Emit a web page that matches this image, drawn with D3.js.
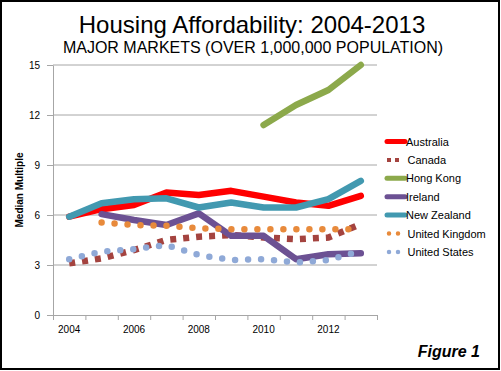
<!DOCTYPE html>
<html lang="en">
  <head>
    <meta charset="UTF-8" />
    <title>Housing Affordability: 2004-2013</title>
    <script src="https://d3js.org/d3.v7.min.js"></script>
    <style>
      body {
        margin: 0;
        background: #fff;
      }
      svg {
        display: block;
        font-family: "Liberation Sans", Arial, sans-serif;
      }
      .line {
        fill: none;
      }
      .grid line {
        stroke: #a6a6a6;
      }
      .axis path,
      .axis line {
        stroke: #a6a6a6;
      }
      .axis text {
        font-size: 10px;
        fill: #000;
      }
    </style>
  </head>
  <body>
    <svg id="chart" width="501" height="371"></svg>

    <script>
      const years = [2004, 2005, 2006, 2007, 2008, 2009, 2010, 2011, 2012, 2013];
      const yearLabels = [2004, 2006, 2008, 2010, 2012];
      const yTicks = [0, 3, 6, 9, 12, 15];

      // null = no data for that year
      const australia = [5.9, 6.35, 6.6, 7.35, 7.2, 7.45, 7.1, 6.75, 6.55, 7.15];
      const canada = [3.1, 3.4, 3.9, 4.5, 4.7, 4.8, 4.65, 4.55, 4.65, 5.45];
      const hongKong = [null, null, null, null, null, null, 11.4, 12.6, 13.5, 15.0];
      const ireland = [null, 6.05, 5.7, 5.4, 6.1, 4.75, 4.75, 3.35, 3.65, 3.7];
      const newZealand = [5.9, 6.7, 6.95, 7.0, 6.45, 6.75, 6.45, 6.45, 6.95, 8.05];
      const unitedKingdom = [null, 5.55, 5.4, 5.35, 5.2, 5.15, 5.15, 5.15, 5.15, 5.15];
      const unitedStates = [3.35, 3.8, 3.95, 4.2, 3.6, 3.3, 3.35, 3.15, 3.3, 3.85];

      const series = [
        { name: "Australia", values: australia, color: "#ff0000", style: "solid" },
        { name: "Canada", values: canada, color: "#a4433f", style: "square" },
        { name: "Hong Kong", values: hongKong, color: "#8ca94b", style: "solid" },
        { name: "Ireland", values: ireland, color: "#6c5193", style: "solid" },
        { name: "New Zealand", values: newZealand, color: "#4299b0", style: "solid" },
        { name: "United Kingdom", values: unitedKingdom, color: "#e88a3b", style: "round" },
        { name: "United States", values: unitedStates, color: "#8fa9d7", style: "round" },
      ];

      const svg = d3.select("#chart");
      const plotLeft = 53, plotRight = 377, plotTop = 65, plotBottom = 315;

      // frame
      svg.append("rect")
        .attr("x", 1).attr("y", 1).attr("width", 498).attr("height", 368)
        .attr("fill", "none").attr("stroke", "#000").attr("stroke-width", 2);

      const x = d3.scaleBand().domain(years).range([plotLeft, plotRight]);
      const y = d3.scaleLinear().domain([0, 15]).range([plotBottom, plotTop]);
      const cx = (yr) => x(yr) + x.bandwidth() / 2;

      // gridlines
      svg.append("g").attr("class", "grid")
        .selectAll("line")
        .data(yTicks.filter((d) => d > 0))
        .join("line")
        .attr("x1", plotLeft).attr("x2", plotRight)
        .attr("y1", (d) => y(d)).attr("y2", (d) => y(d));

      // y axis
      svg.append("g").attr("class", "axis")
        .attr("transform", `translate(${plotLeft},0)`)
        .call(d3.axisLeft(y).tickValues(yTicks).tickSize(6).tickSizeOuter(0).tickPadding(6))
        .call((g) => g.selectAll("text").attr("dx", "-0.1em"));

      // x axis: ticks on band edges, labels every other year
      const edges = years.map((d) => x(d)).concat([plotRight]);
      const xEdge = d3.scaleLinear().domain([plotLeft, plotRight]).range([plotLeft, plotRight]);
      svg.append("g").attr("class", "axis")
        .attr("transform", `translate(0,${plotBottom})`)
        .call(d3.axisBottom(xEdge).tickValues(edges).tickSize(5).tickSizeOuter(0).tickFormat(""));

      svg.append("g").attr("class", "axis")
        .selectAll("text")
        .data(yearLabels)
        .join("text")
        .attr("x", (d) => cx(d))
        .attr("y", plotBottom + 18)
        .attr("text-anchor", "middle")
        .text((d) => d);

      // lines
      const line = d3.line()
        .defined((d) => d.v != null)
        .x((d) => cx(d.year))
        .y((d) => y(d.v));

      function styleLine(sel, s, w) {
        sel.attr("stroke", s.color).attr("stroke-width", w);
        if (s.style === "solid") {
          sel.attr("stroke-linecap", "round").attr("stroke-linejoin", "round");
        } else if (s.style === "round") {
          sel.attr("stroke-linecap", "round").attr("stroke-dasharray", "0 13");
        } else {
          sel.attr("stroke-linecap", "butt").attr("stroke-dasharray", "6 7");
        }
      }

      series.forEach((s) => {
        const pts = years.map((yr, i) => ({ year: yr, v: s.values[i] }));
        svg.append("path")
          .datum(pts)
          .attr("class", "line")
          .attr("d", line)
          .call(styleLine, s, 6.5);
      });

      // legend
      const legend = svg.append("g").selectAll("g")
        .data(series)
        .join("g")
        .attr("transform", (d, i) => `translate(0,${141.5 + i * 18.4})`);

      legend.append("path")
        .attr("class", "line")
        .attr("d", (d) => d.style === "solid" ? "M387,0H405" : d.style === "round" ? "M389,0H400" : "M387,0H399")
        .each(function (d) {
          const p = d3.select(this);
          p.attr("stroke", d.color).attr("stroke-width", 5);
          if (d.style === "solid") p.attr("stroke-linecap", "round");
          else if (d.style === "round") p.attr("stroke-linecap", "round").attr("stroke-dasharray", "0 9").attr("stroke-width", 4.5);
          else p.attr("stroke-dasharray", "4 4").attr("stroke-width", 4);
        });

      legend.append("text")
        .attr("x", (d) => d.style === "solid" ? 406 : 407.5)
        .attr("y", 4)
        .attr("font-size", "11px")
        .text((d) => d.name);

      // titles
      svg.append("text")
        .attr("x", 252).attr("y", 33)
        .attr("text-anchor", "middle")
        .attr("font-size", "24px")
        .text("Housing Affordability: 2004-2013");

      svg.append("text")
        .attr("x", 253).attr("y", 53)
        .attr("text-anchor", "middle")
        .attr("font-size", "16px")
        .text("MAJOR MARKETS (OVER 1,000,000 POPULATION)");

      svg.append("text")
        .attr("transform", "translate(23,190) rotate(-90)")
        .attr("text-anchor", "middle")
        .attr("font-size", "10px")
        .attr("font-weight", "bold")
        .text("Median Multiple");

      svg.append("text")
        .attr("x", 480).attr("y", 357)
        .attr("text-anchor", "end")
        .attr("font-size", "16px")
        .attr("font-weight", "bold")
        .attr("font-style", "italic")
        .text("Figure 1");
    </script>
  </body>
</html>
